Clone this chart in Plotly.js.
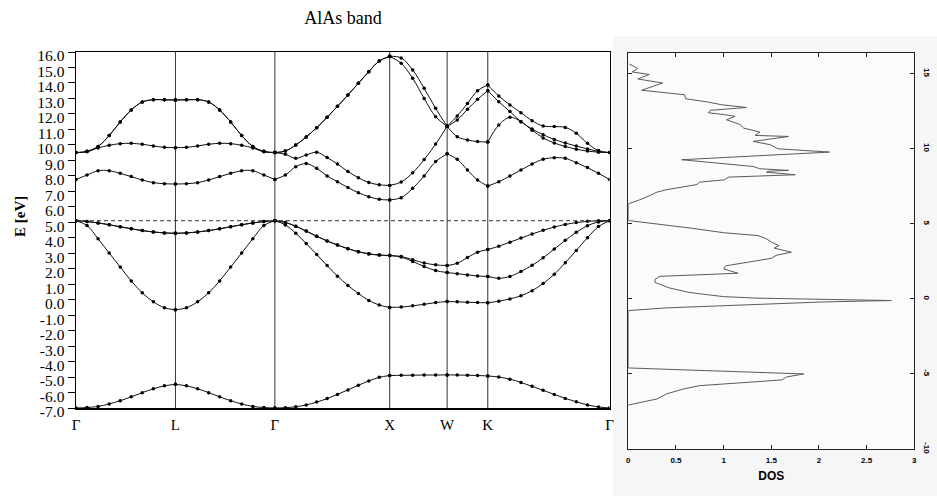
<!DOCTYPE html>
<html>
<head>
<meta charset="utf-8">
<script src="https://cdn.plot.ly/plotly-3.0.1.min.js"></script>
<style>
  html, body { margin: 0; padding: 0; background: #ffffff; }
  #chart { width: 937px; height: 496px; }
</style>
</head>
<body>
<div id="chart"></div>
<script>
// ---- Band structure of AlAs along Γ–L–Γ–X–W–K–Γ ----
// k-path positions (units of 2π/a)
const kPath = [
  0.000, 0.096, 0.192, 0.289, 0.385, 0.481, 0.577, 0.674, 0.770, 0.866,
  0.962, 1.059, 1.155, 1.251, 1.347, 1.443, 1.540, 1.636, 1.732,
  1.823, 1.914, 2.005, 2.096, 2.187, 2.277, 2.368, 2.459, 2.550, 2.641, 2.732,
  2.832, 2.932, 3.032, 3.132, 3.232,
  3.320, 3.409, 3.497, 3.586,
  3.682, 3.779, 3.875, 3.972, 4.068, 4.165, 4.261, 4.357, 4.454, 4.550, 4.646
];

// high-symmetry points: position, label, index in kPath
const hsPos    = [0.000, 0.866, 1.732, 2.732, 3.232, 3.586, 4.646];
const hsLabels = ['Γ', 'L', 'Γ', 'X', 'W', 'K', 'Γ'];
const hsIndex  = [0, 9, 18, 29, 34, 38, 49];

// energies in eV at every k-point
const bandV1 = [
  -7.00, -6.97, -6.90, -6.74, -6.53, -6.28, -6.01, -5.76, -5.57, -5.47,
  -5.57, -5.76, -6.01, -6.28, -6.53, -6.74, -6.90, -6.97, -7.00,
  -6.98, -6.92, -6.80, -6.62, -6.39, -6.12, -5.83, -5.53, -5.25, -5.02, -4.90,
  -4.89, -4.88, -4.87, -4.87, -4.86,
  -4.87, -4.88, -4.90, -4.93,
  -5.00, -5.14, -5.35, -5.60, -5.86, -6.12, -6.38, -6.60, -6.80, -6.93, -7.00
];
const bandV2 = [
  5.10, 4.79, 3.94, 3.01, 2.11, 1.21, 0.44, -0.14, -0.52, -0.66,
  -0.52, -0.14, 0.44, 1.21, 2.11, 3.01, 3.94, 4.79, 5.10,
  4.83, 4.29, 3.63, 2.92, 2.20, 1.52, 0.92, 0.40, -0.05, -0.35, -0.50,
  -0.48, -0.40, -0.30, -0.19, -0.12,
  -0.14, -0.17, -0.19, -0.20,
  -0.10, 0.05, 0.25, 0.58, 1.04, 1.64, 2.38, 3.18, 4.00, 4.72, 5.10
];
const bandV3 = [
  5.10, 5.05, 4.96, 4.84, 4.71, 4.58, 4.46, 4.37, 4.31, 4.29,
  4.31, 4.37, 4.46, 4.58, 4.71, 4.84, 4.96, 5.05, 5.10,
  4.99, 4.74, 4.43, 4.10, 3.79, 3.53, 3.29, 3.10, 2.96, 2.88, 2.85,
  2.75, 2.47, 2.14, 1.88, 1.75,
  1.68, 1.60, 1.53, 1.50,
  1.38, 1.50, 1.82, 2.22, 2.70, 3.27, 3.83, 4.35, 4.78, 5.02, 5.10
];
const bandV4 = [
  5.10, 5.05, 4.96, 4.84, 4.71, 4.58, 4.46, 4.37, 4.31, 4.29,
  4.31, 4.37, 4.46, 4.58, 4.71, 4.84, 4.96, 5.05, 5.10,
  4.99, 4.74, 4.43, 4.10, 3.79, 3.53, 3.29, 3.10, 2.96, 2.88, 2.85,
  2.79, 2.58, 2.37, 2.25, 2.20,
  2.35, 2.72, 3.07, 3.24,
  3.45, 3.71, 3.98, 4.24, 4.48, 4.69, 4.86, 4.98, 5.06, 5.10, 5.10
];
const bandC1 = [
  7.77, 8.05, 8.33, 8.33, 8.16, 7.95, 7.73, 7.56, 7.49, 7.47,
  7.49, 7.56, 7.73, 7.95, 8.16, 8.33, 8.33, 8.05, 7.77,
  8.05, 8.59, 8.79, 8.49, 7.99, 7.62, 7.24, 6.91, 6.65, 6.48, 6.44,
  6.59, 7.19, 7.99, 8.92, 9.42,
  9.07, 8.38, 7.73, 7.34,
  7.62, 7.99, 8.38, 8.76, 9.07, 9.17, 9.13, 8.85, 8.53, 8.16, 7.77
];
const bandC2 = [
  9.50, 9.55, 9.80, 9.97, 10.08, 10.10, 10.04, 9.93, 9.84, 9.82,
  9.84, 9.93, 10.04, 10.10, 10.08, 9.97, 9.80, 9.55, 9.50,
  9.39, 9.13, 9.35, 9.52, 9.18, 8.76, 8.28, 7.88, 7.57, 7.42, 7.38,
  7.60, 8.20, 9.05, 10.05, 11.20,
  10.53, 10.32, 10.21, 10.19,
  11.28, 11.78, 11.50, 10.95, 10.45, 10.12, 9.90, 9.72, 9.60, 9.53, 9.50
];
const bandC3 = [
  9.50, 9.58, 9.90, 10.60, 11.48, 12.25, 12.77, 12.92, 12.91, 12.90,
  12.91, 12.92, 12.77, 12.25, 11.48, 10.60, 9.90, 9.58, 9.50,
  9.60, 9.99, 10.51, 11.11, 11.78, 12.49, 13.22, 13.98, 14.73, 15.42, 15.72,
  15.27, 14.30, 13.00, 11.82, 11.20,
  11.61, 12.30, 12.94, 13.50,
  12.79, 12.15, 11.50, 11.02, 10.66, 10.35, 10.12, 9.92, 9.74, 9.58, 9.50
];
const bandC4 = [
  9.50, 9.58, 9.90, 10.60, 11.48, 12.25, 12.77, 12.92, 12.91, 12.90,
  12.91, 12.92, 12.77, 12.25, 11.48, 10.60, 9.90, 9.58, 9.50,
  9.60, 9.99, 10.51, 11.11, 11.78, 12.49, 13.22, 13.98, 14.73, 15.42, 15.72,
  15.62, 14.84, 13.65, 12.36, 11.20,
  11.87, 12.68, 13.50, 13.87,
  13.16, 12.58, 12.08, 11.56, 11.22, 11.18, 11.13, 10.75, 10.10, 9.63, 9.50
];
const bands = [bandV1, bandV2, bandV3, bandV4, bandC1, bandC2, bandC3, bandC4];

// valence band maximum (dashed reference line)
const eVBM = 5.1;

// energy axis ticks
const eTickLabels = ['16.0','15.0','14.0','13.0','12.0','11.0','10.0','9.0','8.0','7.0','6.0','5.0',
                     '4.0','3.0','2.0','1.0','0.0','-1.0','-2.0','-3.0','-4.0','-5.0','-6.0','-7.0'];

// ---- Density of states (energy, DOS) ----
const dosE = [
  15.65, 15.35, 15.12, 14.95, 14.65, 14.38, 13.90, 13.60, 13.33, 13.11,
  12.93, 12.75, 12.56, 12.40, 12.27, 12.16, 11.93, 11.62, 11.38, 11.11,
  10.89, 10.82, 10.49, 10.27, 10.00, 9.78, 9.27, 8.82, 8.67, 8.56,
  8.50, 8.44, 8.27, 8.11, 7.93, 7.78, 7.62, 7.27, 7.11, 6.89,
  6.60, 6.33, 5.22, 5.00, 4.71, 4.40, 4.22, 4.00, 3.78, 3.55,
  3.38, 3.11, 2.90, 2.70, 2.50, 2.33, 2.20, 2.00, 1.85, 1.71,
  1.50, 1.30, 1.10, 0.90, 0.75, 0.60, 0.44, 0.30, 0.15, 0.05,
  0.00, -0.11, -0.20, -0.30, -0.45, -0.60, -0.78, -4.60, -5.00, -5.20,
  -5.40, -5.55, -5.66, -5.78, -6.00, -6.33, -6.67, -6.89, -7.07
];
const dosD = [
  0.01, 0.10, 0.04, 0.22, 0.10, 0.36, 0.14, 0.59, 0.60, 0.84,
  0.98, 1.24, 0.86, 0.84, 1.01, 1.12, 1.03, 1.17, 1.21, 1.38,
  1.33, 1.68, 1.31, 1.49, 1.57, 2.11, 0.56, 1.31, 1.38, 1.68,
  1.47, 1.45, 1.75, 1.05, 1.01, 0.75, 0.72, 0.40, 0.30, 0.23,
  0.12, 0.00, 0.00, 0.31, 0.66, 1.01, 1.36, 1.45, 1.50, 1.58,
  1.53, 1.71, 1.55, 1.50, 1.30, 1.15, 1.02, 1.00, 1.08, 1.15,
  0.33, 0.28, 0.28, 0.35, 0.42, 0.52, 0.63, 0.80, 1.00, 1.35,
  1.75, 2.76, 2.06, 1.60, 1.00, 0.40, 0.00, 0.00, 1.84, 1.66,
  1.61, 1.28, 0.93, 0.75, 0.58, 0.40, 0.30, 0.12, 0.00
];
const dosTicks = ['0', '0.5', '1', '1.5', '2', '2.5', '3'];
const dosETicks = ['-10', '-5', '0', '5', '10', '15'];

// ---- traces ----
const traces = [];
// each band is drawn segment by segment so the curves keep their kinks at the symmetry points
bands.forEach(function (band) {
  for (let s = 0; s < hsIndex.length - 1; s++) {
    const i0 = hsIndex[s], i1 = hsIndex[s + 1];
    traces.push({
      type: 'scatter', mode: 'lines+markers',
      x: kPath.slice(i0, i1 + 1), y: band.slice(i0, i1 + 1),
      xaxis: 'x', yaxis: 'y',
      line: { color: '#111', width: 1, shape: 'spline', smoothing: 1 },
      marker: { color: '#000', size: 3.5 },
      hoverinfo: 'skip', showlegend: false
    });
  }
});
traces.push({
  type: 'scatter', mode: 'lines',
  x: dosD, y: dosE, xaxis: 'x2', yaxis: 'y2',
  line: { color: '#5a5a5a', width: 1 },
  hoverinfo: 'skip', showlegend: false
});

const serif = 'Liberation Serif, Times New Roman, serif';
const sans = 'Liberation Sans, Arial, sans-serif';

const shapes = [
  // panel behind the DOS plot
  { type: 'rect', xref: 'paper', yref: 'paper', x0: 613 / 937, x1: 1, y0: 0, y1: 1 - 36 / 496,
    fillcolor: '#f6f6f6', line: { width: 0 }, layer: 'below' },
  { type: 'rect', xref: 'x2 domain', yref: 'y2 domain', x0: 0, x1: 1, y0: 0, y1: 1,
    fillcolor: '#fbfbfb', line: { width: 0 }, layer: 'below' },
  // valence band maximum
  { type: 'line', xref: 'x', yref: 'y', x0: hsPos[0], x1: hsPos[hsPos.length - 1], y0: eVBM, y1: eVBM,
    line: { color: '#333', width: 1, dash: '4px,3px' }, layer: 'above' }
];
// vertical lines at the inner symmetry points
for (let i = 1; i < hsPos.length - 1; i++) {
  shapes.push({ type: 'line', xref: 'x', yref: 'y domain', x0: hsPos[i], x1: hsPos[i], y0: 0, y1: 1,
    line: { color: '#333', width: 1 }, layer: 'below' });
}

const layout = {
  width: 937, height: 496,
  margin: { l: 0, r: 0, t: 0, b: 0 },
  paper_bgcolor: '#ffffff', plot_bgcolor: 'rgba(0,0,0,0)',
  showlegend: false,
  title: {
    text: 'AlAs band', font: { family: serif, size: 18, color: '#000' },
    x: 343 / 937, xanchor: 'center', y: 1 - 18 / 496, yanchor: 'middle'
  },
  xaxis: {
    domain: [76 / 937, 609.5 / 937], range: [hsPos[0], hsPos[hsPos.length - 1]],
    anchor: 'y', tickmode: 'array', tickvals: hsPos, ticktext: hsLabels,
    ticks: '', ticklabelstandoff: 2,
    tickfont: { family: serif, size: 15, color: '#000' },
    showline: true, mirror: true, linecolor: '#000', linewidth: 1.5,
    showgrid: false, zeroline: false, fixedrange: true
  },
  yaxis: {
    domain: [88 / 496, 444 / 496], range: [-7, 16], anchor: 'x',
    tickmode: 'array', tickvals: eTickLabels.map(Number), ticktext: eTickLabels,
    ticks: 'outside', ticklen: 7, tickwidth: 1, tickcolor: '#000',
    ticklabelshift: 4, ticklabelstandoff: 0,
    tickfont: { family: serif, size: 15.5, color: '#000' },
    showline: true, mirror: true, linecolor: '#000', linewidth: 1.5,
    showgrid: false, zeroline: false, fixedrange: true
  },
  xaxis2: {
    domain: [628.3 / 937, 914.3 / 937], range: [0, 3], anchor: 'y2',
    tickmode: 'array', tickvals: dosTicks.map(Number), ticktext: dosTicks,
    ticks: 'inside', ticklen: 4, tickcolor: '#222', mirror: 'ticks',
    showline: true, linecolor: '#222', linewidth: 1,
    tickfont: { family: sans, size: 8, color: '#000', weight: 'bold' },
    ticklabelstandoff: 3,
    title: { text: 'DOS', font: { family: sans, size: 12, color: '#000', weight: 'bold' }, standoff: 8 },
    showgrid: false, zeroline: false, fixedrange: true
  },
  yaxis2: {
    domain: [47 / 496, 443.3 / 496], range: [-10, 16.4], anchor: 'x2', side: 'right',
    tickmode: 'array', tickvals: dosETicks.map(Number), ticktext: dosETicks,
    ticks: 'inside', ticklen: 4, tickcolor: '#222', mirror: 'ticks',
    showline: true, linecolor: '#222', linewidth: 1,
    tickangle: 90, ticklabelstandoff: 6,
    tickfont: { family: sans, size: 8, color: '#000', weight: 'bold' },
    showgrid: false, zeroline: false, fixedrange: true
  },
  shapes: shapes,
  annotations: [
    { text: '<b>E [eV]</b>', xref: 'paper', yref: 'paper', x: 20 / 937, y: 1 - 217 / 496,
      xanchor: 'center', yanchor: 'middle', textangle: -90, showarrow: false,
      font: { family: serif, size: 15, color: '#000' } }
  ]
};

Plotly.newPlot('chart', traces, layout, { staticPlot: true, displayModeBar: false });
</script>
</body>
</html>
